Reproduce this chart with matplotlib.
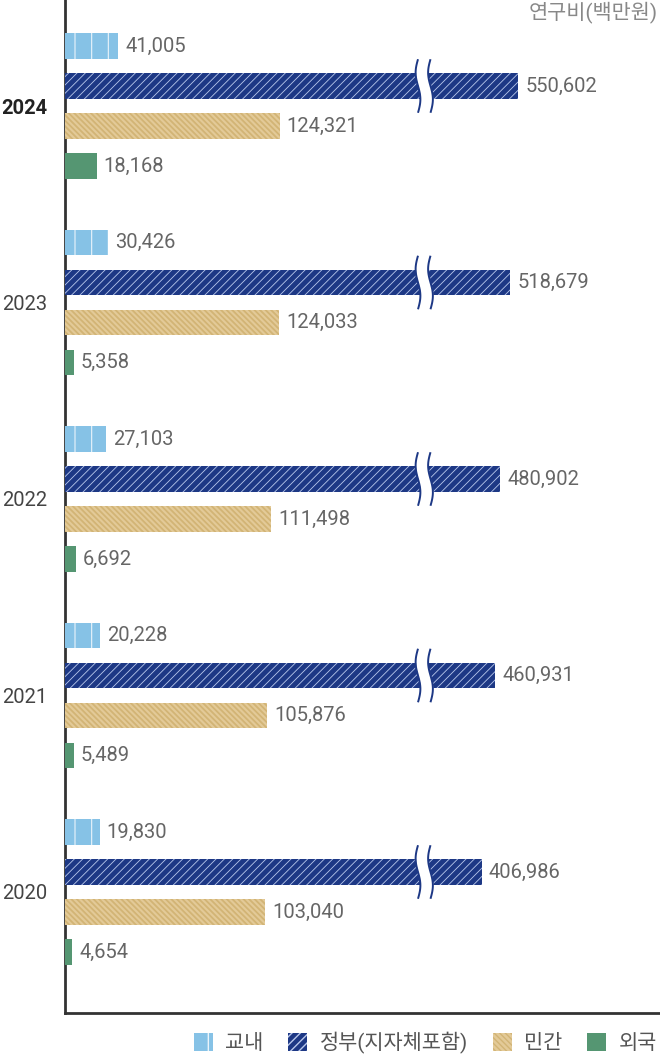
""" Research funding by source (horizontal grouped bars with broken government bars). """

import numpy as np
import matplotlib
matplotlib.use("Agg")
import matplotlib.pyplot as plt
from matplotlib.patches import Patch

plt.rcParams["font.family"] = ["Roboto", "Noto Sans CJK KR", "DejaVu Sans"]

# data
years = ["2024", "2023", "2022", "2021", "2020"]
series_names = ["교내", "정부(지자체포함)", "민간", "외국"]
intramural = [41005, 30426, 27103, 20228, 19830]
government = [550602, 518679, 480902, 460931, 406986]
private = [124321, 124033, 111498, 105876, 103040]
foreign = [18168, 5358, 6692, 5489, 4654]
unit_label = "연구비(백만원)"

# styles
colors = ["#86C2E6", "#1D3885", "#E3CA98", "#559672"]
hatch_colors = ["#EAF4FB", "#B9C8EC", "#D2B475", "#559672"]
hatches = ["|", "////", "\\\\\\\\\\\\", ""]
hatch_widths = [0.8, 0.6, 1.3, 1.0]

# the chart does not use a linear scale: piecewise mapping of value -> bar length
scale_values = [0, 5000, 20000, 40000, 100000, 125000, 400000, 550000, 800000]
scale_lengths = [0, 8, 35, 51, 198, 215, 415, 453, 595]


def forward(v):
    return np.interp(v, scale_values, scale_lengths)


def inverse(p):
    return np.interp(p, scale_lengths, scale_values)


def draw_break(ax, y, x_frac, half_h):
    ys = np.linspace(y - half_h, y + half_h, 40)
    t = np.linspace(-1, 1, 40)
    wiggle = 0.004 * np.sin(np.pi * t)
    trans = ax.get_yaxis_transform()
    xl = x_frac + wiggle
    xr = x_frac + 0.021 + wiggle
    ax.fill_betweenx(ys, xl, xr, transform=trans, color="white", zorder=4,
                     linewidth=0)
    ax.plot(xl, ys, transform=trans, color=colors[1], lw=1.4, zorder=5,
            solid_capstyle="butt")
    ax.plot(xr, ys, transform=trans, color=colors[1], lw=1.4, zorder=5,
            solid_capstyle="butt")


def main():
    fig = plt.figure(figsize=[6.6, 10.57], dpi=100)
    ax = fig.add_axes([65 / 660, 44 / 1057, 595 / 660, 1013 / 1057])
    ax.set_xscale("function", functions=(forward, inverse))
    ax.set_xlim(0, 800000)

    group_gap = 196.5
    bar_gap = 40.0 / group_gap
    bar_h = 25.5 / group_gap
    ax.set_ylim((1013 - 106) / group_gap, -106 / group_gap)

    all_series = [intramural, government, private, foreign]
    centers = np.arange(len(years))
    for k, vals in enumerate(all_series):
        ypos = centers + (k - 1.5) * bar_gap
        bars = ax.barh(ypos, vals, height=bar_h, color=colors[k],
                       edgecolor=hatch_colors[k], linewidth=0,
                       hatch=hatches[k] or None, zorder=3)
        for b in bars:
            if hasattr(b, "set_hatch_linewidth"):
                b.set_hatch_linewidth(hatch_widths[k])
        for y, v in zip(ypos, vals):
            ax.annotate("{:,}".format(v), xy=(v, y), xytext=(7, 0),
                        textcoords="offset pixels", va="center", ha="left",
                        fontsize=14.5, color="#666666", zorder=6)
        if k == 1:
            for y in ypos:
                draw_break(ax, y, (418 - 65) / 595, bar_h * 1.05)

    ax.set_yticks(centers)
    ax.set_yticklabels(years)
    ax.tick_params(axis="y", length=0, pad=13, labelsize=14.5,
                   labelcolor="#444444")
    lbl = ax.get_yticklabels()[0]
    lbl.set_fontweight("bold")
    lbl.set_color("#222222")
    ax.set_xticks([])
    ax.xaxis.set_minor_locator(matplotlib.ticker.NullLocator())

    for side in ["top", "right"]:
        ax.spines[side].set_visible(False)
    for side in ["left", "bottom"]:
        ax.spines[side].set_color("#333333")
        ax.spines[side].set_linewidth(2)

    fig.text(0.997, 0.999, unit_label, ha="right", va="top", fontsize=15,
             color="#888888")

    handles = []
    for k in range(4):
        h = Patch(facecolor=colors[k], edgecolor=hatch_colors[k],
                  linewidth=0, hatch=hatches[k] or None)
        if hasattr(h, "set_hatch_linewidth"):
            h.set_hatch_linewidth(hatch_widths[k])
        handles.append(h)
    fig.legend(handles, series_names, loc="lower right",
               bbox_to_anchor=(1.0, 0.0), ncol=4, frameon=False,
               fontsize=15, labelcolor="#555555", handlelength=0.9,
               handleheight=0.9, handletextpad=0.6, columnspacing=1.2,
               borderaxespad=0.0, borderpad=0.15)

    fig.savefig("out.png", dpi=100)
    plt.close(fig)


if __name__ == "__main__":
    main()
